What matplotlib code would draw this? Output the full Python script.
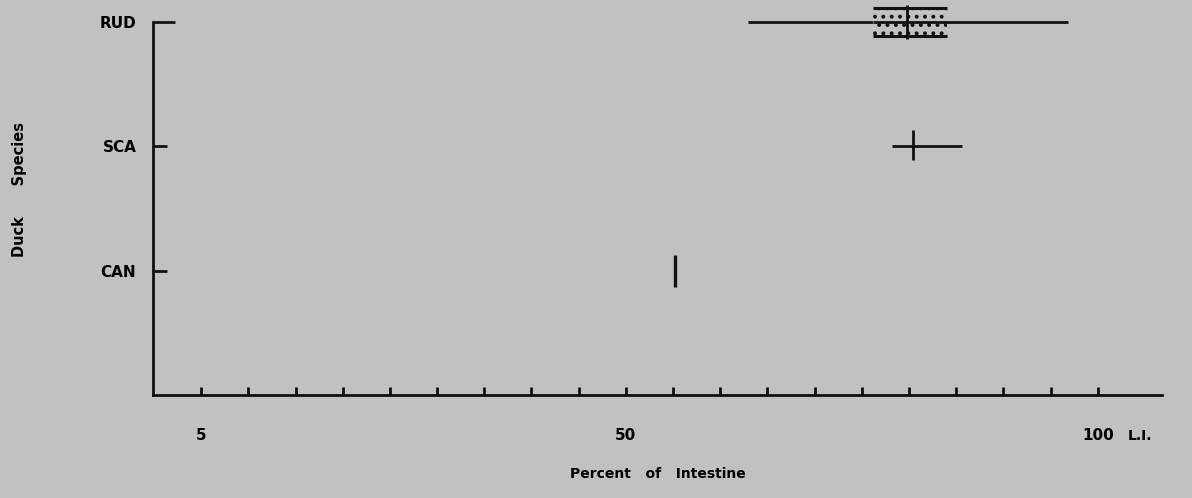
# Range plot of duck species vs percent of intestine (scanned figure look)
import matplotlib
matplotlib.use("Agg")
import matplotlib.pyplot as plt

# data
species = ["CAN", "SCA", "RUD"]
ypos = [1, 2, 3]

rud_range = (62.9, 96.8)
rud_box = (76.2, 84.0)
rud_median = 79.8

sca_range = (78.2, 85.6)
sca_mean = 80.4

can_value = 55.2

xticks = list(range(5, 101, 5))
xticklabels = ["5" if t == 5 else "50" if t == 50 else "100" if t == 100 else "" for t in xticks]

bg = "#c1c1c3"
ink = "#111111"
plt.rcParams["hatch.linewidth"] = 1.6
plt.rcParams["hatch.color"] = ink

fig = plt.figure(figsize=(11.92, 4.98), dpi=100, facecolor=bg)
ax = fig.add_axes([153 / 1192, 103 / 498, (1162 - 153) / 1192, (395 - 22) / 498])
ax.set_facecolor(bg)

# RUD: whisker line, stippled box, median (sits on the top edge, so no clipping)
ax.hlines(3, rud_range[0], rud_range[1], color=ink, lw=2, clip_on=False)
ax.barh(3, rud_box[1] - rud_box[0], left=rud_box[0], height=0.23,
        facecolor=bg, edgecolor=ink, linewidth=0, hatch="..", zorder=2, clip_on=False)
ax.hlines([3 - 0.115, 3 + 0.115], rud_box[0], rud_box[1], color=ink, lw=2.2,
          zorder=3, clip_on=False)
ax.vlines(rud_median, 3 - 0.135, 3 + 0.135, color=ink, lw=2, zorder=3, clip_on=False)
ax.hlines(3, rud_box[0], rud_box[1], color=ink, lw=2, zorder=3, clip_on=False)

# SCA: range line with mean mark
ax.hlines(2, sca_range[0], sca_range[1], color=ink, lw=2)
ax.vlines(sca_mean, 2 - 0.11, 2 + 0.13, color=ink, lw=2)

# CAN: single value
ax.vlines(can_value, 1 - 0.13, 1 + 0.13, color=ink, lw=2.4)

ax.set_xlim(-0.1, 106.8)
ax.set_ylim(0, 3)

for s in ["top", "right"]:
    ax.spines[s].set_visible(False)
for s in ["left", "bottom"]:
    ax.spines[s].set_linewidth(2)
    ax.spines[s].set_color(ink)

font = dict(family="DejaVu Sans", weight="bold")
ax.set_xticks(xticks)
ax.set_xticklabels(xticklabels, fontsize=11, **font)
ax.set_yticks(ypos)
ax.set_yticklabels(species, fontsize=11, **font)
ax.tick_params(axis="x", direction="in", length=6, width=2, color=ink, pad=24)
ax.tick_params(axis="y", direction="in", length=10, width=2, color=ink, pad=12)
ax.get_yticklines()[4].set_markersize(16)

ax.text(0.978, -0.11, "L.I.", transform=ax.transAxes, ha="center", va="center",
        fontsize=10, **font)
ax.set_xlabel("Percent   of   Intestine", fontsize=10, labelpad=17, **font)
fig.text(20 / 1192, 1 - 189 / 498, "Duck      Species", rotation=90, ha="center",
         va="center", fontsize=10.5, **font)

fig.savefig("out.png", dpi=100, facecolor=bg)
